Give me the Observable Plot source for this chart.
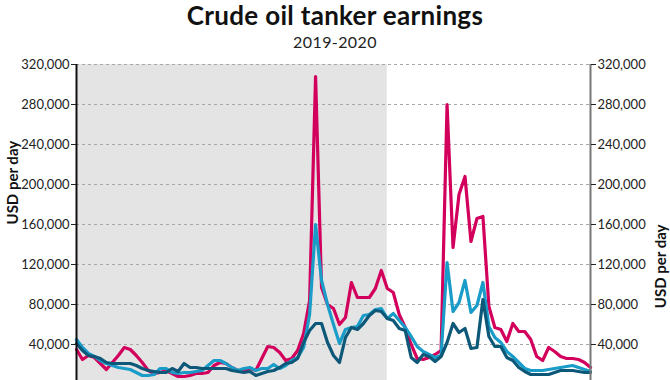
<!DOCTYPE html>
<html><head><meta charset="utf-8">
<script src="https://cdn.jsdelivr.net/npm/d3@7"></script>
<script src="https://cdn.jsdelivr.net/npm/@observablehq/plot@0.6"></script>
<style>
html,body{margin:0;padding:0;overflow:hidden;background:#fff;}
body{width:670px;height:380px;position:relative;font-family:Lato, sans-serif;}
#title{position:absolute;left:0;top:0;width:670px;font-size:26px;font-weight:700;line-height:31.4px;text-align:center;color:#111;letter-spacing:0.3px;}
#subtitle{position:absolute;left:0;top:31.5px;width:670px;font-size:16px;line-height:19.2px;text-align:center;color:#222;letter-spacing:0.4px;}
#chart{position:absolute;left:0;top:48px;}
#chart svg{display:block;}
</style></head><body>
<div id="title">Crude oil tanker earnings</div>
<div id="subtitle">2019-2020</div>
<div id="chart"></div>
<script>
// Weekly data, first week ending 2019-01-04, thousand USD per day
const firstWeek = "2019-01-04";
const vlcc = [35,25,29,27,21,15,22,29,37,35,29,22,14,11,12,14,11,8,8,9,11,11,12,19,22,21,17,14,13,16,14,26,38,37,32,24,26,34,51,84,308,97,80,76,60,67,102,87,87,87,96,114,
  96,92,70,57,40,26,25,27,30,34,280,137,190,208,143,166,168,78,57,55,43,61,53,53,45,28,24,37,33,28,26,26,25,22,17];
const suezmax = [45,37,31,28,24,21,19,17,16,15,12,9,9,10,16,16,12,11,12,12,13,14,19,24,24,21,17,14,16,17,14,16,16,20,16,19,24,27,37,70,160,104,80,60,41,55,57,58,69,70,75,76,
  66,71,64,57,48,38,33,30,27,29,122,73,82,104,72,79,102,58,47,42,33,28,22,16,14,14,14,15,16,17,18,19,17,15,13];
const aframax = [41,34,29,28,26,22,21,21,21,21,19,16,14,13,12,12,16,13,21,17,17,16,16,16,16,16,14,13,12,13,9,11,13,14,17,21,22,26,42,54,61,61,42,29,22,47,57,55,61,69,74,73,
  66,64,56,54,27,22,30,28,23,28,42,61,52,56,36,37,85,48,38,38,27,24,17,13,10,10,10,10,12,14,14,14,13,12,12];
const yTicks = [40000,80000,120000,160000,200000,240000,280000,320000];
const yDomain = [0, 320000];
const shadeStart = "2019-01-04", shadeEnd = "2020-01-03";
const axisTitle = "USD per day";

const t0 = new Date(firstWeek + "T00:00:00Z");
const dates = vlcc.map((_, i) => new Date(t0.getTime() + i * 7 * 864e5));
const rows = (arr) => arr.map((v, i) => ({date: dates[i], value: v * 1000}));
const shade = [{start: new Date(shadeStart + "T00:00:00Z"), end: new Date(shadeEnd + "T00:00:00Z"), lo: yDomain[0], hi: yDomain[1]}];

const chart = Plot.plot({
  width: 670, height: 16 + 320 + 4,
  marginTop: 16, marginBottom: 4, marginLeft: 76, marginRight: 80,
  style: {fontFamily: "Lato, sans-serif", fontSize: "13px", color: "#222", background: "#fff"},
  x: {type: "utc", domain: [dates[0], dates[dates.length - 1]], axis: null},
  y: {domain: yDomain, axis: null},
  marks: [
    Plot.rect(shade, {x1: "start", x2: "end", y1: "lo", y2: "hi", fill: "#e4e4e4"}),
    Plot.gridY(yTicks, {stroke: "#a8a8a8", strokeOpacity: 1, strokeDasharray: "3,3", strokeWidth: 1}),
    Plot.line(rows(vlcc), {x: "date", y: "value", stroke: "#d2005c", strokeWidth: 3.2, strokeLinejoin: "round"}),
    Plot.line(rows(suezmax), {x: "date", y: "value", stroke: "#1a9cc8", strokeWidth: 3.2, strokeLinejoin: "round"}),
    Plot.line(rows(aframax), {x: "date", y: "value", stroke: "#0d5878", strokeWidth: 3.2, strokeLinejoin: "round"}),
    Plot.ruleX([dates[0]], {y1: yDomain[0], y2: yDomain[1], stroke: "#111", strokeWidth: 2}),
    Plot.ruleX([dates[dates.length - 1]], {y1: yDomain[0], y2: yDomain[1], stroke: "#777", strokeWidth: 2}),
    Plot.axisY(yTicks, {anchor: "left", tickSize: 5, tickPadding: 2, tickFormat: d3.format(","), label: null, fontSize: 13}),
    Plot.axisY(yTicks, {anchor: "right", tickSize: 5, tickPadding: 2, tickFormat: d3.format(","), label: null, fontSize: 13}),
    Plot.text([axisTitle], {frameAnchor: "left", dx: -63, rotate: -90, fontWeight: "bold", fontSize: 15, fill: "#111"}),
    Plot.text([axisTitle], {frameAnchor: "right", dx: 71, rotate: -90, fontWeight: "bold", fontSize: 15, fill: "#111"})
  ]
});
document.getElementById("chart").appendChild(chart);
</script>
</body></html>
